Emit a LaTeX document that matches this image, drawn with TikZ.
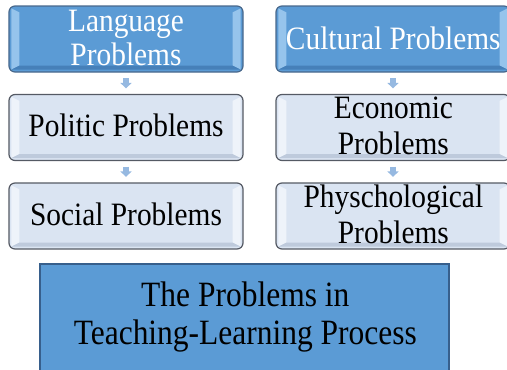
\documentclass[tikz,border=0pt]{standalone}
\usepackage{fontspec}
\usepackage{graphicx}
\setmainfont{Liberation Serif}
\usetikzlibrary{calc,arrows.meta}
\definecolor{bluemain}{RGB}{91,155,213}
\definecolor{bluelight}{RGB}{150,196,236}
\definecolor{bluedark}{RGB}{70,128,185}
\definecolor{blueborder}{RGB}{72,104,140}
\definecolor{palemain}{RGB}{218,228,242}
\definecolor{palelight}{RGB}{238,243,250}
\definecolor{paledark}{RGB}{190,202,220}
\definecolor{paleborder}{RGB}{85,90,100}
\definecolor{arrowblue}{RGB}{150,185,225}
\definecolor{mainborder}{RGB}{55,95,140}
\newcommand\boxbevel[3]{%
  \fill[#2] ($(#1.north west)+(3,3)$) -- ($(#1.north west)+(11,7)$) -- ($(#1.south west)+(11,-7)$) -- ($(#1.south west)+(3,-3)$) -- cycle;
  \fill[#2] ($(#1.north east)+(-3,3)$) -- ($(#1.north east)+(-11,7)$) -- ($(#1.south east)+(-11,-7)$) -- ($(#1.south east)+(-3,-3)$) -- cycle;
  \fill[#3] ($(#1.south west)+(3,-3)$) -- ($(#1.south west)+(11,-7)$) -- ($(#1.south east)+(-11,-7)$) -- ($(#1.south east)+(-3,-3)$) -- cycle;
}
% stretched text block whose baseline is the first line's baseline
\newcommand\stretchlines[3]{\scalebox{1}[#1]{\vtop{\baselineskip=#2\lineskiplimit=-100bp\halign{\hfil##\hfil\cr #3\cr}}}}
\begin{document}
\begin{tikzpicture}[x=1bp,y=-1bp,
  basebox/.style={rectangle, rounded corners=6bp, draw, line width=1.2bp,
    minimum width=234bp, minimum height=66bp, inner sep=0pt},
  bluebox/.style={basebox, fill=bluemain, draw=blueborder},
  palebox/.style={basebox, fill=palemain, draw=paleborder},
  boxtext/.style={anchor=base, inner sep=0pt, font=\fontsize{29.5}{33}\selectfont},
  smallarrow/.style={-{Triangle[width=11bp,length=5.5bp]}, line width=6bp, draw=arrowblue,
    shorten <=5.5bp, shorten >=5.5bp},
  mainbox/.style={rectangle, draw=mainborder, fill=bluemain, line width=1.5bp,
    minimum width=409bp, minimum height=110bp, inner sep=0pt}
]
\useasboundingbox (0,0) rectangle (507,369);
\clip (0,0) rectangle (507,369);
% left column
\node[bluebox] (lang) at (126,39) {};
\node[palebox] (pol) at (126,127.5) {};
\node[palebox] (soc) at (126,216) {};
% right column
\node[bluebox] (cult) at (393,39) {};
\node[palebox] (eco) at (393,127.5) {};
\node[palebox] (psy) at (393,216) {};
\boxbevel{lang}{bluelight}{bluedark}
\boxbevel{cult}{bluelight}{bluedark}
\boxbevel{pol}{palelight}{paledark}
\boxbevel{soc}{palelight}{paledark}
\boxbevel{eco}{palelight}{paledark}
\boxbevel{psy}{palelight}{paledark}
\node[boxtext, text=white] (langt) at (126,31.7) {\stretchlines{1.11}{30.6bp}{Language\cr Problems}};
\node[boxtext, text=white] (cultt) at (393.3,49.3) {\stretchlines{1.11}{30bp}{Cultural Problems}};
\node[boxtext] (polt) at (126,136.7) {\stretchlines{1.11}{30bp}{Politic Problems}};
\node[boxtext] (soct) at (126,225) {\stretchlines{1.11}{30bp}{Social Problems}};
\node[boxtext] (ecot) at (393.4,118.3) {\stretchlines{1.11}{33bp}{Economic\cr Problems}};
\node[boxtext] (psyt) at (393.4,207.3) {\stretchlines{1.11}{32.2bp}{Physchological\cr Problems}};
\draw[smallarrow] (lang) -- (pol);
\draw[smallarrow] (pol) -- (soc);
\draw[smallarrow] (cult) -- (eco);
\draw[smallarrow] (eco) -- (psy);
% main box
\node[mainbox] (main) at (244.5,319) {};
\node[anchor=base, inner sep=0pt, font=\fontsize{31.6}{35}\selectfont] (maint) at (245.3,306.7) {\stretchlines{1.13}{33bp}{The Problems in\cr Teaching-Learning Process}};
\end{tikzpicture}
\end{document}
